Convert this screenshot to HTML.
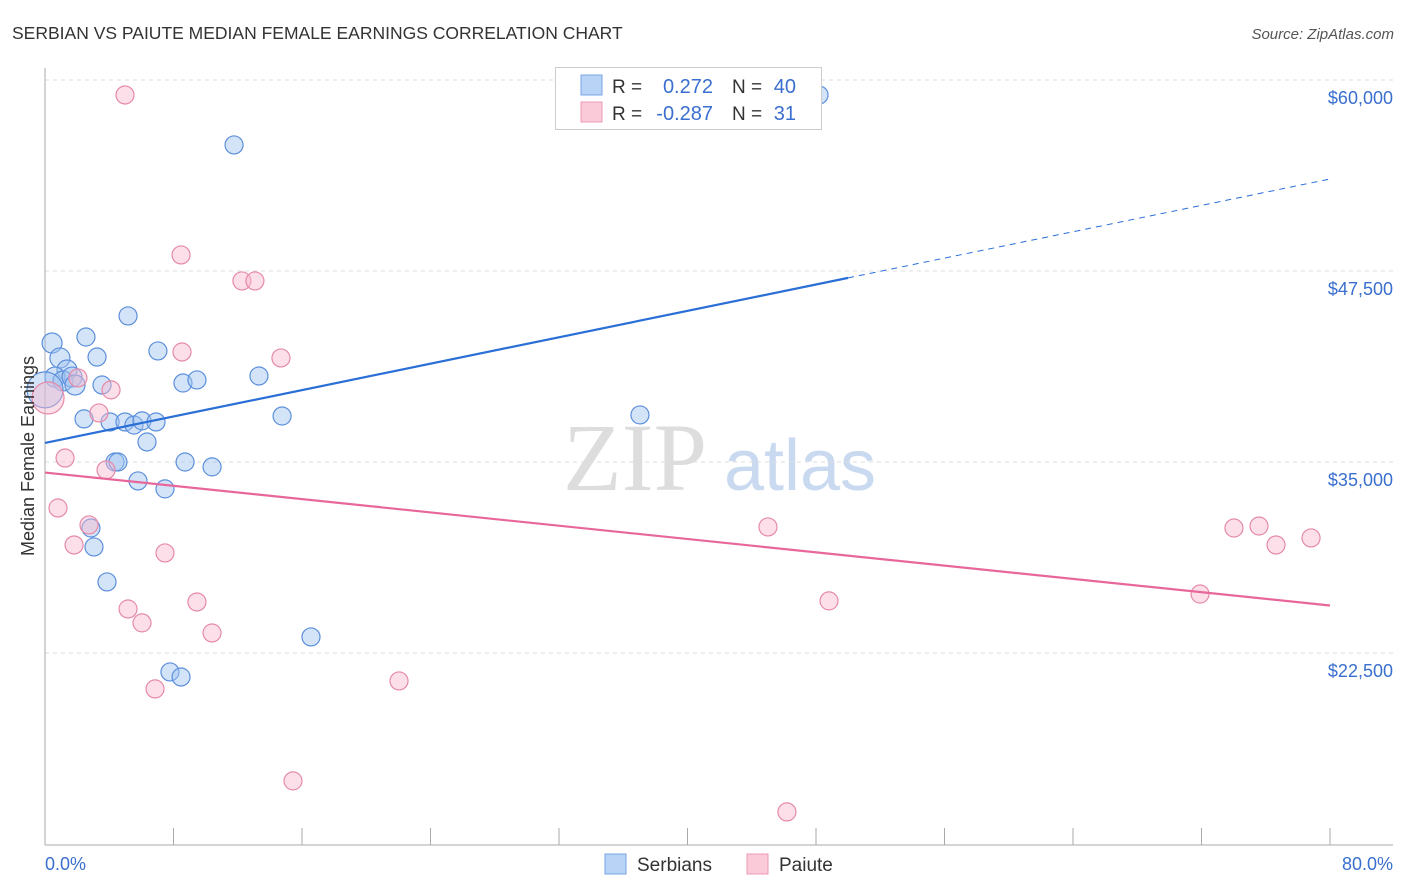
<!DOCTYPE html>
<html><head><meta charset="utf-8"><style>
body{margin:0;background:#fff;font-family:"Liberation Sans",sans-serif;}
svg{display:block}
</style></head><body>
<svg id="chart" width="1406" height="892">
<text x="12" y="39" font-size="17.5" fill="#333">SERBIAN VS PAIUTE MEDIAN FEMALE EARNINGS CORRELATION CHART</text>
<text x="1394" y="39" font-size="15" fill="#555" font-style="italic" text-anchor="end">Source: ZipAtlas.com</text>
<g><text x="635" y="490" font-size="96" font-family="Liberation Serif,serif" fill="#dddddd" text-anchor="middle">ZIP</text><text x="800" y="490" font-size="72" fill="#c9daf0" text-anchor="middle">atlas</text></g>
<g id="grid"></g><g id="axes"></g><g id="marks"></g>
<text transform="translate(34,456) rotate(-90)" font-size="18" fill="#333" text-anchor="middle">Median Female Earnings</text>
<text x="45" y="870" font-size="18" fill="#3a6fcf">0.0%</text>
<text x="1393" y="870" font-size="18" fill="#3a6fcf" text-anchor="end">80.0%</text>
<g>
<rect x="555.5" y="67.5" width="266" height="62" fill="#fff" stroke="#ccc"/>
<rect x="581" y="75" width="21" height="20" fill="#b8d3f5" stroke="#7aa6e6"/>
<rect x="581" y="102" width="21" height="20" fill="#fbcad8" stroke="#ef9ab3"/>
<text x="612" y="93" font-size="19" fill="#333">R = </text><text x="713" y="93" font-size="20" fill="#3a6fcf" text-anchor="end">0.272</text>
<text x="732" y="93" font-size="19" fill="#333">N = </text><text x="796" y="93" font-size="20" fill="#3a6fcf" text-anchor="end">40</text>
<text x="612" y="120" font-size="19" fill="#333">R = </text><text x="713" y="120" font-size="20" fill="#3a6fcf" text-anchor="end">-0.287</text>
<text x="732" y="120" font-size="19" fill="#333">N = </text><text x="796" y="120" font-size="20" fill="#3a6fcf" text-anchor="end">31</text>
</g>
<g>
<g><rect x="605" y="854" width="21" height="20" fill="#b8d3f5" stroke="#7aa6e6"/><text x="637" y="871" font-size="19" fill="#333">Serbians</text></g>
<g><rect x="747" y="854" width="21" height="20" fill="#fbcad8" stroke="#ef9ab3"/><text x="779" y="871" font-size="19" fill="#333">Paiute</text></g>
</g>
</svg>
<script>
const yTicks=[60000,47500,35000,22500];
const yTickLabels=["$60,000","$47,500","$35,000","$22,500"];
const serbX=[0.44,0.93,1.37,0.62,1.12,1.68,1.87,2.55,3.24,2.43,3.55,4.05,4.98,5.54,6.04,6.91,6.35,4.36,4.54,5.79,7.03,5.17,8.59,9.46,7.47,8.72,10.4,13.32,14.76,11.77,2.86,3.05,3.86,16.56,7.78,8.47,37.04,48.19,0];
const serbY=[42790,41810,41020,40560,40300,40560,40040,43180,41870,37820,40040,37620,37620,37420,37690,37620,36310,35000,35000,33760,42270,44560,40170,40370,33240,35000,34680,40630,38010,55750,30680,29440,27150,23550,21260,20930,38080,59020,39720];
const serbR=[10,10,10,10,10,10,10,9,9,9,9,9,9,9,9,9,9,9,9,9,9,9,9,9,9,9,9,9,9,9,9,9,9,9,9,9,9,9,18];
const paiX=[4.98,8.47,12.26,13.07,8.53,14.69,2.05,4.11,3.36,0.19,1.25,3.8,0.81,2.74,1.81,7.47,5.17,6.04,9.46,10.4,6.85,22.04,15.44,46.19,45.01,48.81,74.02,75.58,76.64,78.82,71.91];
const paiY=[59020,48550,46850,46850,42200,41810,40500,39720,38210,39190,35260,34480,31990,30880,29570,29050,25380,24470,25840,23810,20150,20670,14130,12100,30750,25910,30680,30810,29570,30030,26360];
const paiR=[9,9,9,9,9,9,9,9,9,16,9,9,9,9,9,9,9,9,9,9,9,9,9,9,9,9,9,9,9,9,9];
const serbTrend=[36250,47050,53520];
const paiTrend=[34310,25610];
const trendX=[0,50,80];
const NS='http://www.w3.org/2000/svg';
const xs=v=>45+v/80*1285;
const ys=v=>80+(60000-v)/12500*191;
function mk(t,a,p){const e=document.createElementNS(NS,t);for(const k in a)e.setAttribute(k,a[k]);p.appendChild(e);return e;}
const grid=document.getElementById('grid'),axes=document.getElementById('axes'),marks=document.getElementById('marks');
yTicks.forEach((v,i)=>{
 const l=mk('line',{x1:45,x2:1393,y1:ys(v),y2:ys(v),stroke:'#ddd','stroke-dasharray':'4,4'},grid);
 
 
 const t=mk('text',{x:1393,y:ys(v)+24,'font-size':18,fill:'#3a6fcf','text-anchor':'end'},grid);
 t.textContent=yTickLabels[i];
 
 
});
const ya=mk('line',{x1:45,x2:45,y1:68,y2:845,stroke:'#aaa'},axes);


const xa=mk('line',{x1:45,x2:1393,y1:845,y2:845,stroke:'#aaa'},axes);


for(let k=1;k<=10;k++){const tk=mk('line',{x1:xs(k*8),x2:xs(k*8),y1:828,y2:845,stroke:'#aaa'},axes);
 
 }
serbX.forEach((x,i)=>{const c=mk('circle',{cx:xs(x),cy:ys(serbY[i]),r:serbR[i],fill:'rgba(160,196,240,0.45)',stroke:'#5c8fdc','stroke-width':1.2},marks);
 
 });
paiX.forEach((x,i)=>{const c=mk('circle',{cx:xs(x),cy:ys(paiY[i]),r:paiR[i],fill:'rgba(248,184,204,0.45)',stroke:'#e68aa8','stroke-width':1.2},marks);
 
 });
const s1=mk('line',{x1:xs(trendX[0]),y1:ys(serbTrend[0]),x2:xs(trendX[1]),y2:ys(serbTrend[1]),stroke:'#2a6fd6','stroke-width':2.2},marks);


const s2=mk('line',{x1:xs(trendX[1]),y1:ys(serbTrend[1]),x2:xs(trendX[2]),y2:ys(serbTrend[2]),stroke:'#2a6fd6','stroke-width':1,'stroke-dasharray':'6,5'},marks);


const p1=mk('line',{x1:xs(trendX[0]),y1:ys(paiTrend[0]),x2:xs(trendX[2]),y2:ys(paiTrend[1]),stroke:'#e8679a','stroke-width':2.2},marks);


</script>
</body></html>
